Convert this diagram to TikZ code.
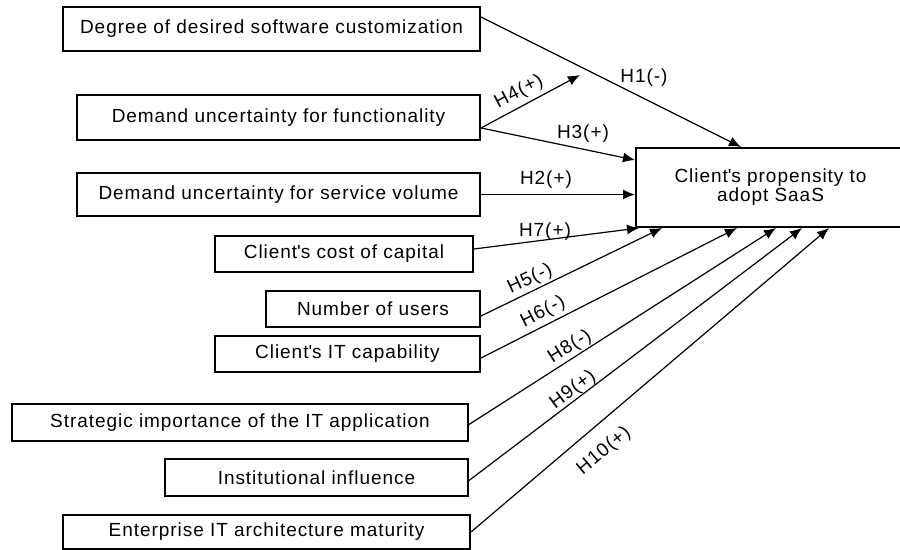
\documentclass[tikz,border=0pt]{standalone}
\usepackage{fontspec}
\setmainfont{Liberation Sans}[LetterSpace=5]
\usetikzlibrary{arrows.meta,calc}

\begin{document}
\begin{tikzpicture}[x=0.5pt, y=-0.5pt,
        every node/.style={font=\fontsize{9.5}{9.5}\selectfont},
        factor/.style 2 args={draw, line width=1pt, minimum width=#1*\px, minimum height=#2*\px, inner sep=0pt},
        hyp/.style={inner sep=0pt},
        link/.style={line width=0.6pt, -{Latex[length=6pt,width=5pt]}}]
    % Parameters
    \def\px{0.5pt}
    \def\q{\textquotesingle}

    % Frame of the picture
    \clip (0,0) rectangle (900,550);

    % Draw the factors
    \node[factor={417}{44}] (deg)    at (271.5,29)  {Degree of desired software customization};
    \node[factor={403}{45}] (func)   at (278.5,117.5) {Demand uncertainty for functionality};
    \node[factor={403}{43}] (vol)    at (278.5,194.5) {Demand uncertainty for service volume};
    \node[factor={258}{36}] (cap)    at (344,254)   {Client\q s cost of capital};
    \node[factor={214}{36}] (users)  at (373,309)   {Number of users};
    \node[factor={265}{36}] (itcap)  at (347.5,354) {Client\q s IT capability};
    \node[factor={456}{37}] (strat)  at (240,422.5) {Strategic importance of the IT application};
    \node[factor={303}{37}] (inst)   at (316.5,477.5) {Institutional influence};
    \node[factor={407}{34}] (arch)   at (266.5,532) {Enterprise IT architecture maturity};

    % Draw the outcome
    \node[factor={269}{79}, align=center] (target) at (770.5,187.5) {Client\q s propensity to\\adopt SaaS};

    % Add arrows for the hypotheses
    \coordinate (h4tip) at (580,75);
    \draw[link] ($(deg.east)+(0,-12)$) -- ($(target.north west)+(106,0)$);
    \draw[link] ($(func.east)+(0,10.5)$) -- (h4tip);
    \draw[link] ($(func.east)+(0,10.5)$) -- ($(target.north west)+(0,13)$);
    \draw[link] (vol.east) -- (vol.east -| target.west);
    \draw[link] ($(cap.east)+(0,-5)$) -- ($(target.south west)+(4,0)$);
    \draw[link] ($(users.east)+(0,7)$) -- ($(target.south west)+(27,0)$);
    \draw[link] ($(itcap.east)+(0,4)$) -- ($(target.south west)+(102,0)$);
    \draw[link] ($(strat.east)+(0,2)$) -- ($(target.south west)+(141,0)$);
    \draw[link] ($(inst.east)+(0,3)$) -- ($(target.south west)+(167,0)$);
    \draw[link] (arch.east) -- ($(target.south west)+(194,0)$);

    % Add hypothesis labels
    \node[hyp] (l1)  at (644,78)  {H1(-)};
    \node[hyp, rotate=28] (l4) at (519,92) {H4(+)};
    \node[hyp] (l3)  at (583,134) {H3(+)};
    \node[hyp] (l2)  at (546,180) {H2(+)};
    \node[hyp] (l7)  at (545,232) {H7(+)};
    \node[hyp, rotate=25] (l5)  at (530,279) {H5(-)};
    \node[hyp, rotate=27] (l6)  at (543,312) {H6(-)};
    \node[hyp, rotate=32] (l8)  at (570,347) {H8(-)};
    \node[hyp, rotate=37] (l9)  at (573,390) {H9(+)};
    \node[hyp, rotate=40] (l10) at (604,451) {H10(+)};
\end{tikzpicture}
\end{document}
